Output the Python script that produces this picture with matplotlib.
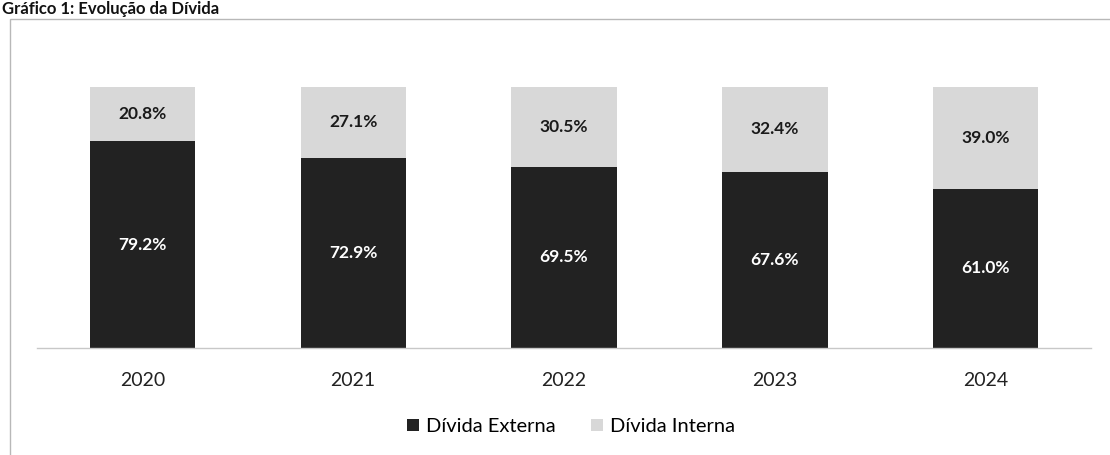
import matplotlib
matplotlib.use("Agg")
import matplotlib.pyplot as plt
from matplotlib.patches import Rectangle

years = ["2020", "2021", "2022", "2023", "2024"]
divida_externa = [79.2, 72.9, 69.5, 67.6, 61.0]
divida_interna = [20.8, 27.1, 30.5, 32.4, 39.0]
series_names = ["Dívida Externa", "Dívida Interna"]
title_text = "Gráfico 1: Evolução da Dívida"

plt.rcParams["font.family"] = ["Lato", "DejaVu Sans"]

W, H = 1110, 455
fig = plt.figure(figsize=(W / 100, H / 100), dpi=100)
fig.patch.set_facecolor("white")

# outer frame of the chart block
fig.patches.append(Rectangle((10 / W, -0.1), 1.2, 1 - 19 / H + 0.1,
                             transform=fig.transFigure, fill=False,
                             edgecolor="#b8b8b8", linewidth=1.0))
fig.text(0.002, 1 - 14 / H, title_text, fontsize=12, fontweight="bold",
         ha="left", va="baseline", color="#111111")

ax = fig.add_axes([37 / W, (H - 348) / H, 1054 / W, 261 / H])
x = range(len(years))
dark, light = "#222222", "#d8d8d8"
b1 = ax.bar(x, divida_externa, width=0.5, color=dark, label=series_names[0])
b2 = ax.bar(x, divida_interna, width=0.5, bottom=divida_externa, color=light,
            label=series_names[1])

for i, (e, n) in enumerate(zip(divida_externa, divida_interna)):
    ax.text(i, e / 2, f"{e:.1f}%", ha="center", va="center",
            color="white", fontsize=12.5, fontweight="bold")
    ax.text(i, e + n / 2, f"{n:.1f}%", ha="center", va="center",
            color="#1a1a1a", fontsize=12.5, fontweight="bold")

ax.set_xlim(-0.5, 4.5)
ax.set_ylim(0, 100)
ax.set_yticks([])
ax.set_xticks(list(x))
ax.set_xticklabels(years, fontsize=14, color="#222222")
ax.tick_params(axis="x", length=0, pad=17)
for s in ["top", "right", "left"]:
    ax.spines[s].set_visible(False)
ax.spines["bottom"].set_color("#c8c8c8")
ax.spines["bottom"].set_linewidth(1.0)
ax.set_facecolor("none")

fig.legend(handles=[b1, b2], labels=series_names, loc="center",
           bbox_to_anchor=(571 / W, 1 - 427 / H), ncol=2, frameon=False,
           fontsize=14.5, handlelength=0.55, handleheight=0.55,
           handletextpad=0.35, columnspacing=1.8)

fig.savefig("out.png", dpi=100, facecolor="white")
